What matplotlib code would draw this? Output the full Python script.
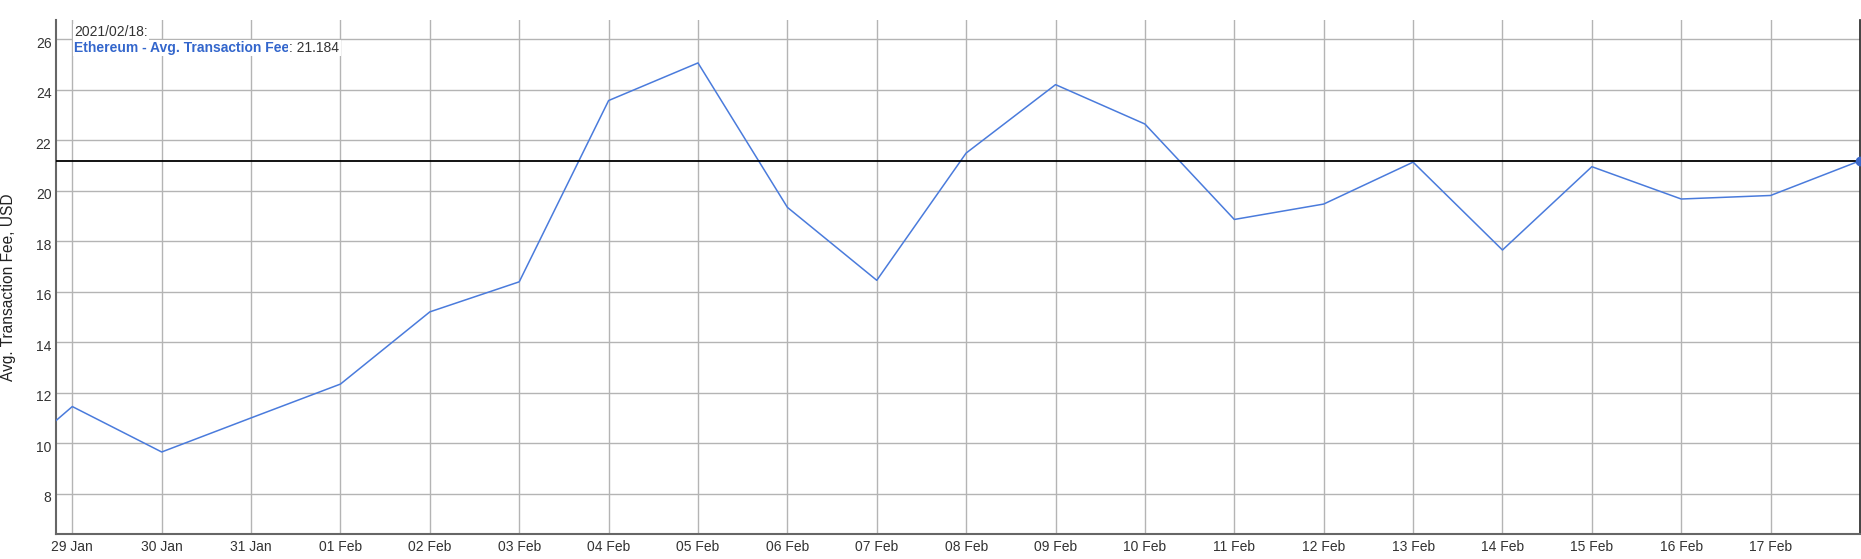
import matplotlib.pyplot as plt
import matplotlib.dates as mdates
import matplotlib.transforms as mtransforms
import pandas as pd

# Ethereum - Avg. Transaction Fee, USD (daily)
dates = ['2021-01-28', '2021-01-29', '2021-01-30', '2021-01-31', '2021-02-01',
         '2021-02-02', '2021-02-03', '2021-02-04', '2021-02-05', '2021-02-06',
         '2021-02-07', '2021-02-08', '2021-02-09', '2021-02-10', '2021-02-11',
         '2021-02-12', '2021-02-13', '2021-02-14', '2021-02-15', '2021-02-16',
         '2021-02-17', '2021-02-18']
fees = [8.4, 11.45, 9.65, 11.0, 12.34, 15.2, 16.39, 23.57, 25.06, 19.34,
        16.45, 21.49, 24.2, 22.64, 18.86, 19.47, 21.13, 17.65, 20.95, 19.67,
        19.81, 21.184]
yticks = [8, 10, 12, 14, 16, 18, 20, 22, 24, 26]
hover_date = '2021/02/18:'
hover_name = 'Ethereum - Avg. Transaction Fee'
hover_value = 21.184

plt.rcParams['font.family'] = ['Liberation Sans', 'DejaVu Sans']

x = pd.to_datetime(dates)
W, H = 1861, 559
fig = plt.figure(figsize=(W / 100, H / 100), dpi=100)
ax = fig.add_axes([56.3 / W, (H - 534.3) / H, (1860 - 56.3) / W, (534.3 - 20) / H])

ax.plot(x, fees, color='#4a7bdc', lw=1.1, zorder=3)
ax.plot(x[-1:], fees[-1:], 'o', color='#3a66c8', ms=6, zorder=4)
ax.axhline(hover_value, color='black', lw=1.3, zorder=3)

day = pd.Timedelta(days=1)
ax.set_xlim(x[1] - 0.179 * day, x[-1])
ax.set_ylim(6.39, 26.76)

ax.set_yticks(yticks)
ax.set_xticks(x[1:-1])
ax.xaxis.set_major_formatter(mdates.DateFormatter('%d %b'))
ax.tick_params(length=0, labelsize=10, colors='#333333')
ax.tick_params(axis='x', pad=4)
ax.tick_params(axis='y', pad=3.5)
# y labels sit a little under their grid lines
shift = mtransforms.ScaledTranslation(0, -3 / 100, fig.dpi_scale_trans)
for lab in ax.get_yticklabels():
    lab.set_transform(lab.get_transform() + shift)
ax.grid(True, color='#b4b4b4', lw=1)
ax.set_axisbelow(True)

ax.spines['top'].set_visible(False)
ax.spines['left'].set_color('#666666')
ax.spines['bottom'].set_color('#666666')
ax.spines['left'].set_linewidth(1.5)
ax.spines['bottom'].set_linewidth(1.5)
ax.spines['right'].set_color('#222222')
ax.spines['right'].set_linewidth(1.2)

fig.text(9 / W, 1 - 287 / H, 'Avg. Transaction Fee, USD', rotation=90,
         ha='center', va='center', fontsize=11.2, color='#222222')

# hover tooltip in the top-left corner
t1 = fig.text(74 / W, 1 - 32 / H, hover_date, ha='left', va='center',
              fontsize=10, color='#333333',
              bbox=dict(facecolor='white', edgecolor='none', pad=1))
t2 = fig.text(74 / W, 1 - 48 / H, hover_name, ha='left', va='center',
              fontsize=10, color='#3366cc', fontweight='bold',
              bbox=dict(facecolor='white', edgecolor='none', pad=1))
fig.canvas.draw()
bb = t2.get_window_extent(fig.canvas.get_renderer())
fig.text(bb.x1 / W, 1 - 48 / H, ': ' + str(hover_value), ha='left', va='center',
         fontsize=10, color='#333333',
         bbox=dict(facecolor='white', edgecolor='none', pad=1))

fig.savefig('out.png', dpi=100)
